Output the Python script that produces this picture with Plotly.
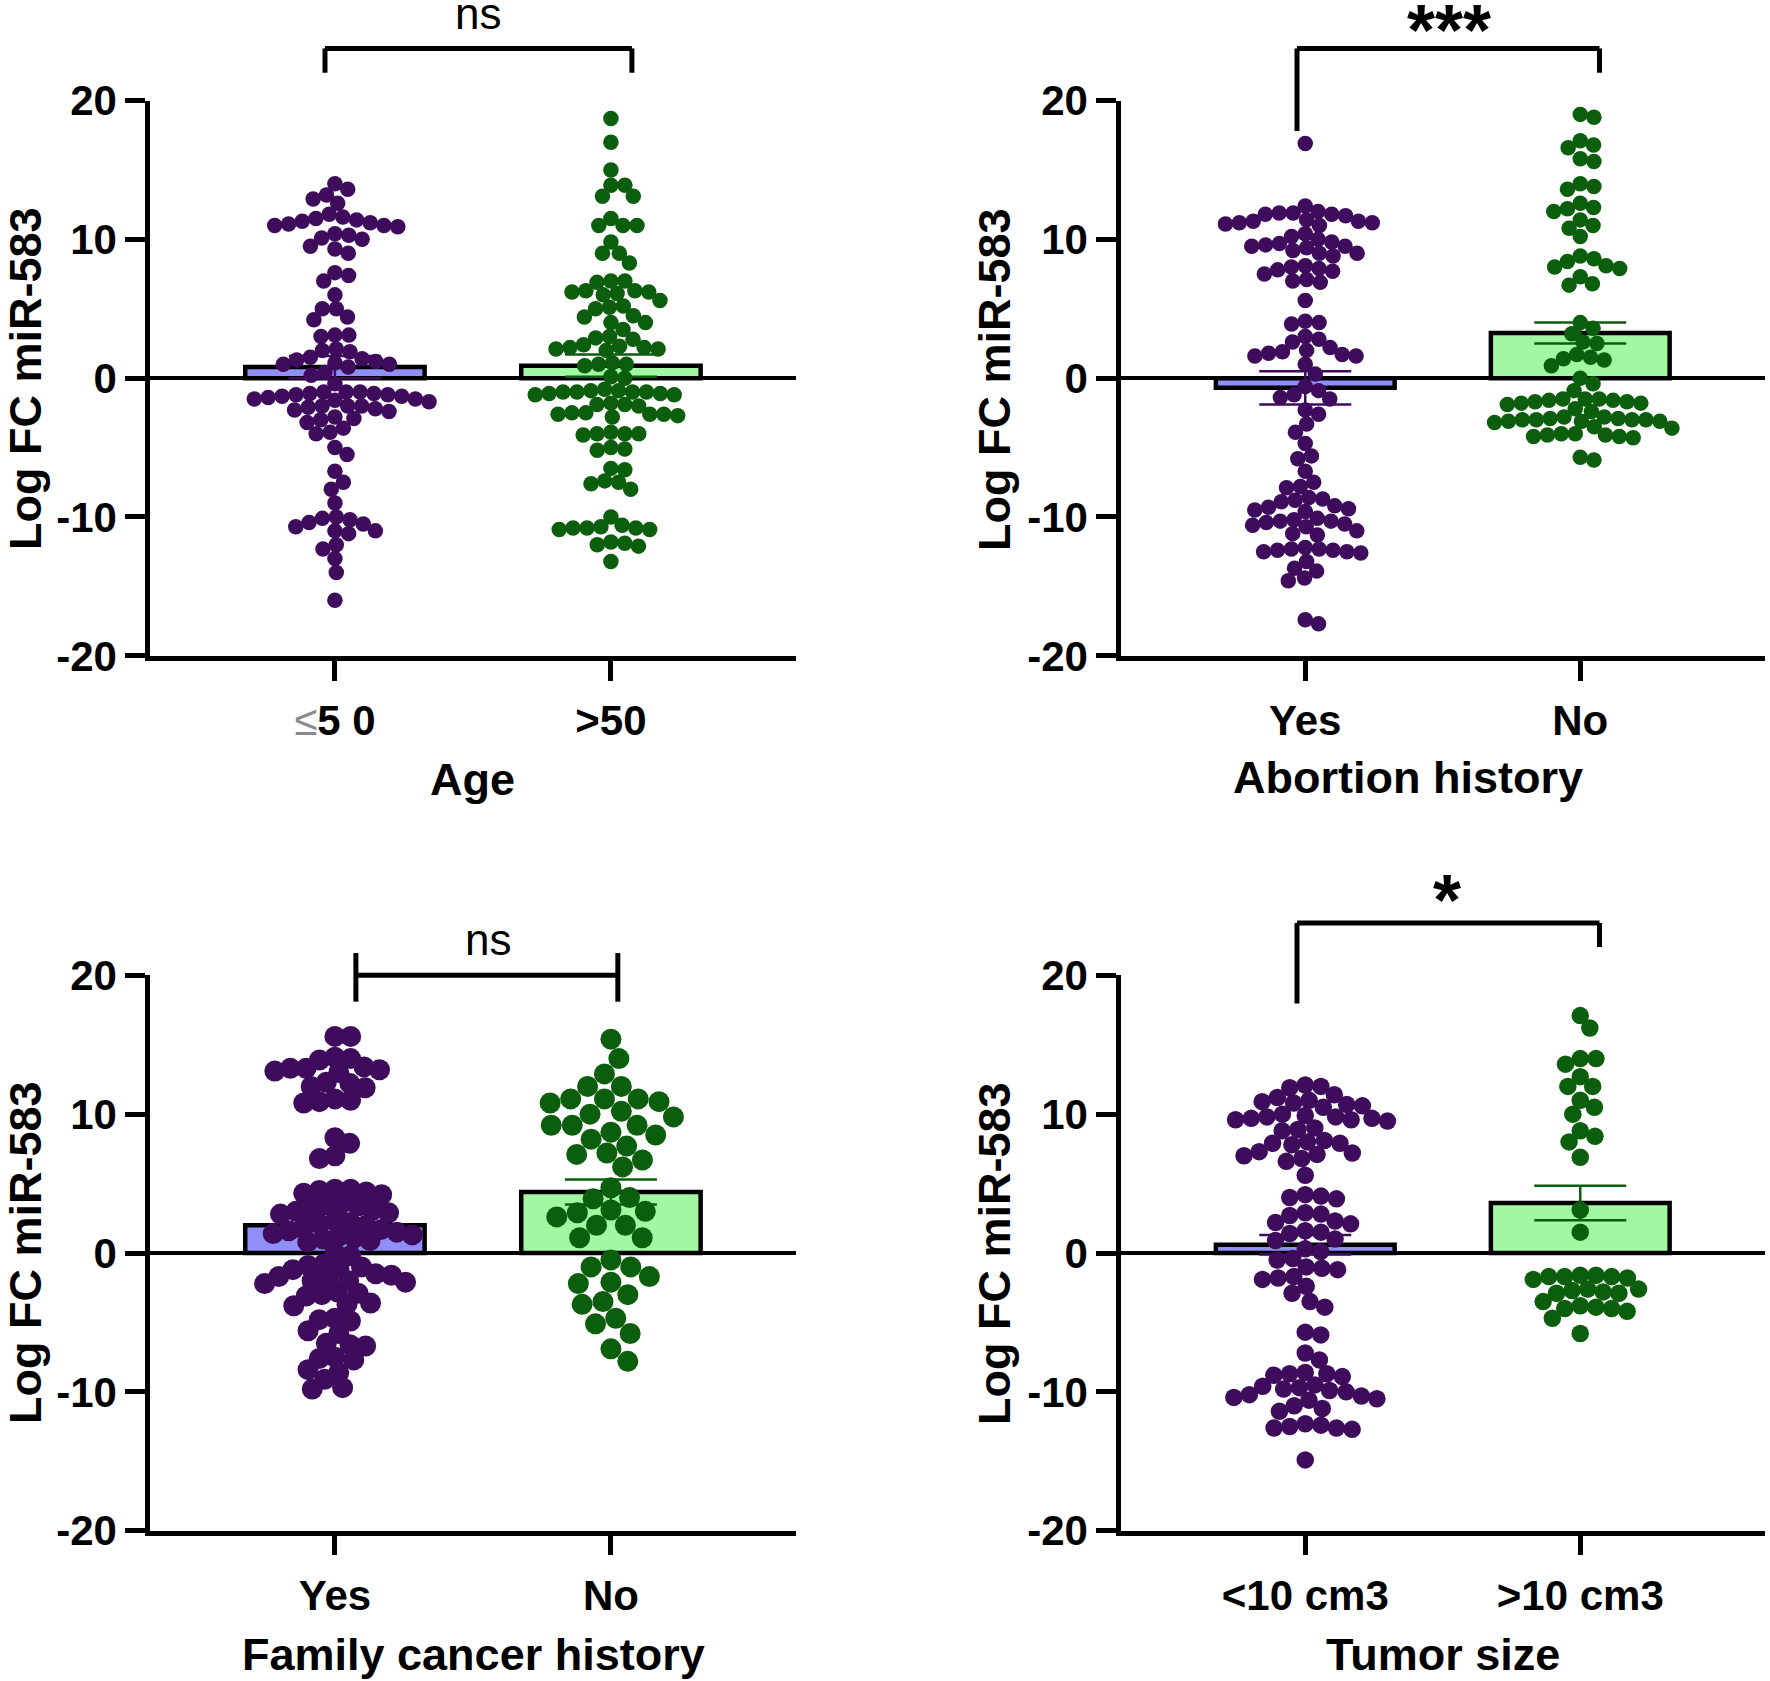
import math
import plotly.graph_objects as go

W, H = 1770, 1681

# ---------------- data ----------------
age_labels = ['<span style="color:#8a8a8a;font-weight:normal">≤</span>5 0', ">50"]
age_le50 = [14.0, 13.6, 13.2, 12.9, 12.6,
            11.8, 11.5, 11.2, 11.0, 11.0, 11.3, 11.6, 11.1, 10.9, 11.4,
            10.3, 10.1, 10.4, 10.0, 9.5, 9.3, 9.0, 7.6, 7.4, 7.0, 6.0, 5.0, 5.0, 4.4, 4.2,
            3.1, 3.0, 3.1, 2.1, 2.0, 1.9,
            1.5, 1.3, 1.2, 1.0, 1.1, 1.4, 1.0, 0.8, 0.4, 0.2, -0.4,
            -1.0, -1.1, -1.2, -1.0, -1.3, -1.5, -1.2, -1.4, -1.0, -1.6, -1.5, -1.7, -1.3, -1.1,
            -2.0, -2.2, -2.0, -2.4, -2.1, -2.3, -2.0,
            -2.9, -3.0, -2.8, -3.2, -3.6, -3.9, -4.0, -5.0, -5.5, -6.7, -7.5, -8.0, -9.0,
            -10.0, -10.2, -10.5, -10.7, -10.4, -10.1, -11.0, -11.2, -11.0, -12.0, -12.3,
            -13.0, -14.0, -16.0]
age_gt50 = [18.7, 17.0, 15.0, 13.9, 13.9, 13.1, 13.1, 11.5, 11.0, 11.0, 11.0, 9.8, 9.0, 9.0, 8.3,
            7.0, 7.0, 6.9, 6.3, 6.2, 6.2, 6.1, 6.3, 6.0, 5.6, 5.1, 5.0, 5.2, 4.4, 4.5, 4.0, 4.0,
            3.5, 2.9, 2.8, 3.0, 2.2, 2.1, 2.3, 2.0, 2.2, 2.1, 2.4, 1.0, 1.1, 0.9, 1.0, 0.0, 0.1,
            -1.0, -0.9, -1.1, -1.0, -1.2, -0.9, -1.0, -1.1, -0.8, -1.0, -1.2,
            -1.9, -2.0, -1.8, -1.9,
            -2.6, -2.5, -2.7, -2.6, -2.8, -2.6, -2.5,
            -4.0, -3.9, -4.1, -4.0, -4.0, -5.1, -5.0, -5.2, -6.6, -6.5,
            -7.5, -7.4, -7.6, -8.0, -10.0,
            -10.8, -10.7, -10.9, -10.8, -10.6, -10.8, -10.9,
            -11.8, -12.0, -11.9, -12.1, -13.2]

abort_labels = ["Yes", "No"]
abort_yes = [16.9, 12.4,
             11.9, 11.8, 12.0, 11.9, 11.8, 11.7,
             11.3, 11.2, 11.4, 11.0, 11.3, 11.1, 11.2,
             10.4, 10.2, 9.8, 9.6, 9.5, 9.7, 10.0, 9.5, 9.4,
             9.0, 8.8, 9.0, 9.2,
             8.0, 7.9, 7.7, 7.5, 8.1, 7.8,
             7.0, 6.9, 7.1, 5.6, 4.0, 4.1, 3.9, 2.8, 3.0, 2.6,
             2.2, 1.9, 1.6, 1.7, 1.8, 2.0, 1.6, 1.0, 0.3,
             -0.6, -0.9, -1.2, -1.5, -1.4, -2.3, -2.6, -3.3, -3.9, -4.7, -5.6, -5.8,
             -6.7, -7.5, -7.8, -7.9, -8.6, -8.8, -8.9, -8.7,
             -9.2, -9.4, -9.6, -9.3, -9.5,
             -10.3, -10.5, -10.2, -10.6, -10.1, -10.4, -10.7, -10.3,
             -11.0, -11.3, -11.2,
             -12.4, -12.3, -12.5, -12.6, -12.2, -12.4, -12.3, -12.5,
             -13.2, -13.7, -13.9, -14.6, -14.4, -17.4, -17.7]
abort_no = [19.0, 18.8, 17.1, 16.8, 16.6, 15.8, 15.6, 14.0, 13.8, 13.6, 12.6, 12.3, 12.2, 12.0,
            11.4, 11.0, 10.8, 10.2, 8.8, 8.6, 8.4, 8.1, 8.0, 7.9, 7.3, 6.8, 6.7,
            4.0, 3.6, 3.2, 2.6, 2.5, 1.7, 1.5, 1.4, 1.3, 0.9, 0.0, -0.4, -0.9,
            -1.5, -1.7, -1.6, -1.8, -1.5, -1.7, -1.9, -1.6, -1.5, -1.8,
            -2.2, -2.4,
            -2.9, -3.0, -3.1, -2.8, -3.0, -3.2, -2.9, -3.1, -3.0, -2.8, -3.1, -3.0,
            -3.6, -3.5, -4.0, -4.2, -4.1, -4.3, -4.0, -4.2, -4.1, -5.7, -5.9]

fam_labels = ["Yes", "No"]
fam_yes = [15.6, 15.6, 14.1, 13.9, 14.0,
           13.3, 13.1, 13.4, 13.2, 13.0, 13.3,
           12.3, 12.0, 12.2, 11.9, 11.1, 10.9, 11.0, 10.8,
           8.3, 7.9, 7.0, 6.8,
           4.6, 4.5, 4.4, 4.6, 4.2, 4.3, 3.6, 3.4, 3.2, 3.5, 3.0, 2.9, 3.1, 2.8,
           2.2, 2.0, 2.3, 2.1, 1.9, 1.6, 1.4, 1.5, 1.2, 1.7, 1.3, 1.1, 0.9, 0.8, 1.0,
           0.0, -0.2, -0.9, -1.0, -1.2, -0.8, -1.1, -1.6, -1.5, -1.7,
           -2.0, -2.1, -2.0, -2.2, -1.9, -2.9, -3.0, -2.8, -3.1, -3.6, -3.8, -3.7,
           -4.7, -4.9, -4.8, -5.6, -5.8, -6.5, -6.7, -6.6, -7.5, -7.7, -7.6,
           -8.4, -8.6, -9.1, -9.7, -9.8]
fam_no = [15.4, 14.0, 12.9, 12.0, 12.0, 11.1, 11.1, 10.8, 10.9, 11.1, 10.0, 10.2, 9.8,
          9.2, 9.2, 9.2, 8.7, 8.5, 8.2, 7.7, 7.2, 7.1, 6.7, 6.2, 4.7, 4.0, 3.9,
          2.9, 2.6, 3.0, 3.1, 2.0, 2.0, 1.1, 1.1,
          -0.5, -1.0, -1.0, -1.7, -2.1, -2.2, -3.0, -3.7, -3.5, -4.7, -5.1, -5.8, -6.9, -7.8]

tum_labels = ["<10 cm3", ">10 cm3"]
tum_lt10 = [12.0, 12.1, 11.9, 11.4, 11.2, 11.0, 10.9, 10.6, 10.5, 10.7, 10.8,
            9.8, 9.9, 9.7, 9.6, 9.8, 9.5, 9.7, 10.0, 9.6, 9.0, 8.9, 8.8,
            8.0, 7.9, 8.1, 7.8, 7.9, 7.3, 7.2, 7.1, 7.0, 6.8, 6.6, 5.6,
            4.1, 4.0, 4.2, 3.9, 2.9, 2.8, 2.7, 2.3, 2.1, 2.2, 1.5, 1.4, 1.6,
            0.9, 1.0, 0.3, 0.1, -0.4, -0.5, -1.1, -1.0, -1.2, -1.8, -1.7, -1.9,
            -2.4, -2.9, -3.5, -3.9, -5.7, -5.9, -7.2, -7.7,
            -8.7, -8.8, -8.6, -8.9, -8.7, -9.6, -9.8, -9.7, -9.9, -10.0, -9.5,
            -10.3, -10.5, -10.4, -10.6, -10.2, -11.2, -11.0, -11.4,
            -12.5, -12.6, -12.7, -12.4, -12.6, -12.3, -14.9]
tum_gt10 = [17.1, 16.2, 14.0, 14.0, 13.6, 12.7, 12.0, 12.0, 11.0, 10.5, 10.0, 8.8, 8.4, 8.0,
            6.9, 3.1, 1.5,
            -1.7, -1.6, -1.6, -1.7, -1.9, -1.7, -1.8,
            -2.9, -2.6, -2.7, -2.6, -2.9, -2.8,
            -3.5, -4.0, -3.8, -4.0, -4.2, -3.9, -4.7, -5.8]

# bar heights (group means) and SEM
age_mean, age_sem = [0.8, 0.9], [0.8, 0.8]
abort_mean, abort_sem = [-0.7, 3.25], [1.2, 0.75]
fam_mean, fam_sem = [2.0, 4.4], [0.8, 0.9]
tum_mean, tum_sem = [0.6, 3.6], [0.7, 1.25]

x_titles = ["Age", "Abortion history", "Family cancer history", "Tumor size"]
y_title = "Log FC miR-583"
y_tickvals = [-20, -10, 0, 10, 20]
y_ticktext = ["-20", "-10", "0", "10", "20"]
sig_labels = ["ns", "***", "ns", "*"]

# ---------------- styling ----------------
PURPLE = "#3f0b5c"
GREEN = "#0b5e0b"
BAR_BLUE = "#8f8ff7"
BAR_GREEN = "#a2f7a2"
FONT = "Liberation Sans, Arial, sans-serif"

X_RANGE = [-0.67, 1.67]
Y_RANGE = [-20, 20]
XDOM_L = [150 / W, (150 + 2.34 * 276) / W]
XDOM_R = [1121 / W, (1121 + 2.34 * 275) / W]
YDOM_T = [1 - 655.8 / H, 1 - 100.5 / H]
YDOM_B = [1 - 1530.7 / H, 1 - 975.3 / H]


def swarm(values, d_px, xppu, yppu):
    placed = []
    xs = [0.0] * len(values)
    order = sorted(range(len(values)), key=lambda i: -values[i])
    for i in order:
        y = values[i] * yppu
        cands = [0.0]
        for px, py in placed:
            dy = abs(py - y)
            if dy < d_px:
                dx = math.sqrt(d_px * d_px - dy * dy)
                cands += [px + dx, px - dx]
        cands.sort(key=lambda c: (round(abs(c), 6), -c))
        chosen = 0.0
        for c in cands:
            if all((c - px) ** 2 + (y - py) ** 2 >= d_px * d_px - 1e-6 for px, py in placed):
                chosen = c
                break
        placed.append((chosen, y))
        xs[i] = chosen / xppu
    return xs


panels = [
    dict(g=(age_le50, age_gt50), labels=age_labels, mean=age_mean, sem=age_sem,
         xdom=XDOM_L, ydom=YDOM_T, dot=15.5, xppu=276, pack=(0.9, 0.9),
         br=dict(x0=-0.036, x1=1.076, y=23.75, yl=22.0, yr=22.0, up=0.0),
         sig=dict(x=0.518, y=26.3, size=44, bold=False),
         xt=(472, 779), yt=(25, 379)),
    dict(g=(abort_yes, abort_no), labels=abort_labels, mean=abort_mean, sem=abort_sem,
         xdom=XDOM_R, ydom=YDOM_T, dot=15.5, xppu=275, pack=(0.9, 0.9),
         br=dict(x0=-0.03, x1=1.07, y=23.75, yl=17.8, yr=22.0, up=0.0),
         sig=dict(x=0.524, y=25.1, size=72, bold=True),
         xt=(1408, 777), yt=(994, 379)),
    dict(g=(fam_yes, fam_no), labels=fam_labels, mean=fam_mean, sem=fam_sem,
         xdom=XDOM_L, ydom=YDOM_B, dot=21, xppu=276, pack=(0.75, 1.0),
         br=dict(x0=0.076, x1=1.025, y=20.0, yl=18.1, yr=18.1, up=1.6),
         sig=dict(x=0.554, y=22.6, size=44, bold=False),
         xt=(473, 1654), yt=(25, 1253)),
    dict(g=(tum_lt10, tum_gt10), labels=tum_labels, mean=tum_mean, sem=tum_sem,
         xdom=XDOM_R, ydom=YDOM_B, dot=17.5, xppu=275, pack=(0.9, 0.9),
         br=dict(x0=-0.03, x1=1.07, y=23.77, yl=17.97, yr=22.04, up=0.0),
         sig=dict(x=0.516, y=25.4, size=72, bold=True),
         xt=(1443, 1654), yt=(994, 1253)),
]

fig = go.Figure()
shapes, annotations = [], []
tickfont = dict(family=FONT, size=42, color="black", weight="bold")

for k, p in enumerate(panels):
    n = "" if k == 0 else str(k + 1)
    xa, ya = "x" + n, "y" + n
    yppu = (p["ydom"][1] - p["ydom"][0]) * H / (Y_RANGE[1] - Y_RANGE[0])
    fills = [BAR_BLUE, BAR_GREEN]
    dots = [PURPLE, GREEN]
    for j in range(2):
        fig.add_trace(go.Bar(
            x=[j], y=[p["mean"][j]], width=0.65, xaxis=xa, yaxis=ya,
            marker=dict(color=fills[j], line=dict(color="black", width=4.5)),
            error_y=dict(type="data", array=[p["sem"][j]], symmetric=True,
                         color=dots[j], thickness=2.5, width=46),
            showlegend=False, hoverinfo="skip"))
    for j in range(2):
        vals = p["g"][j]
        offs = swarm(vals, p["dot"] * p["pack"][j], p["xppu"], yppu)
        fig.add_trace(go.Scatter(
            x=[j + o for o in offs], y=vals, mode="markers", xaxis=xa, yaxis=ya,
            marker=dict(size=p["dot"], color=dots[j], line=dict(width=0)),
            showlegend=False, hoverinfo="skip"))

    axis_common = dict(showline=True, linewidth=4.5, linecolor="black", ticks="outside",
                       ticklen=20, tickwidth=4.5, tickcolor="black", showgrid=False,
                       tickfont=tickfont, fixedrange=True, automargin=False)
    fig.layout["xaxis" + n] = dict(domain=p["xdom"], anchor=ya, range=X_RANGE,
                                   tickmode="array", tickvals=[0, 1], ticktext=p["labels"],
                                   zeroline=False, ticklabelstandoff=4, **axis_common)
    fig.layout["yaxis" + n] = dict(domain=p["ydom"], anchor=xa, range=Y_RANGE,
                                   tickmode="array", tickvals=y_tickvals, ticktext=y_ticktext,
                                   zeroline=True, zerolinecolor="black", zerolinewidth=3.5,
                                   **axis_common)

    def to_paper(xv, yv, p=p):
        px = p["xdom"][0] + (xv - X_RANGE[0]) / (X_RANGE[1] - X_RANGE[0]) * (p["xdom"][1] - p["xdom"][0])
        py = p["ydom"][0] + (yv - Y_RANGE[0]) / (Y_RANGE[1] - Y_RANGE[0]) * (p["ydom"][1] - p["ydom"][0])
        return px, py

    b = p["br"]
    ax0, ay = to_paper(b["x0"], b["y"])
    ax1, _ = to_paper(b["x1"], b["y"])
    _, yl = to_paper(0, b["yl"])
    _, yr = to_paper(0, b["yr"])
    _, ytop = to_paper(0, b["y"] + b["up"])
    line = dict(color="black", width=5)
    shapes.append(dict(type="line", xref="paper", yref="paper", x0=ax0, x1=ax1, y0=ay, y1=ay, line=line))
    shapes.append(dict(type="line", xref="paper", yref="paper", x0=ax0, x1=ax0, y0=yl, y1=ytop, line=line))
    shapes.append(dict(type="line", xref="paper", yref="paper", x0=ax1, x1=ax1, y0=yr, y1=ytop, line=line))

    s = p["sig"]
    sx, sy = to_paper(s["x"], s["y"])
    sig_font = dict(family=FONT, size=s["size"], color="black",
                    weight="bold" if s["bold"] else "normal")
    annotations.append(dict(x=sx, y=sy, xref="paper", yref="paper", text=sig_labels[k],
                            showarrow=False, font=sig_font, xanchor="center", yanchor="middle"))

    tfont = dict(family=FONT, size=45, color="black", weight="bold")
    annotations.append(dict(x=p["xt"][0] / W, y=1 - p["xt"][1] / H, xref="paper", yref="paper",
                            text=x_titles[k], showarrow=False, font=tfont,
                            xanchor="center", yanchor="middle"))
    annotations.append(dict(x=p["yt"][0] / W, y=1 - p["yt"][1] / H, xref="paper", yref="paper",
                            text=y_title, showarrow=False, font=tfont, textangle=-90,
                            xanchor="center", yanchor="middle"))

fig.update_layout(width=W, height=H,
                  margin=dict(l=0, r=0, t=0, b=0, pad=0, autoexpand=False),
                  paper_bgcolor="white", plot_bgcolor="white", barmode="overlay",
                  shapes=shapes, annotations=annotations, showlegend=False)

fig.write_html("out.html", config={"displayModeBar": False},
               post_script="document.body.style.margin='0px';")
